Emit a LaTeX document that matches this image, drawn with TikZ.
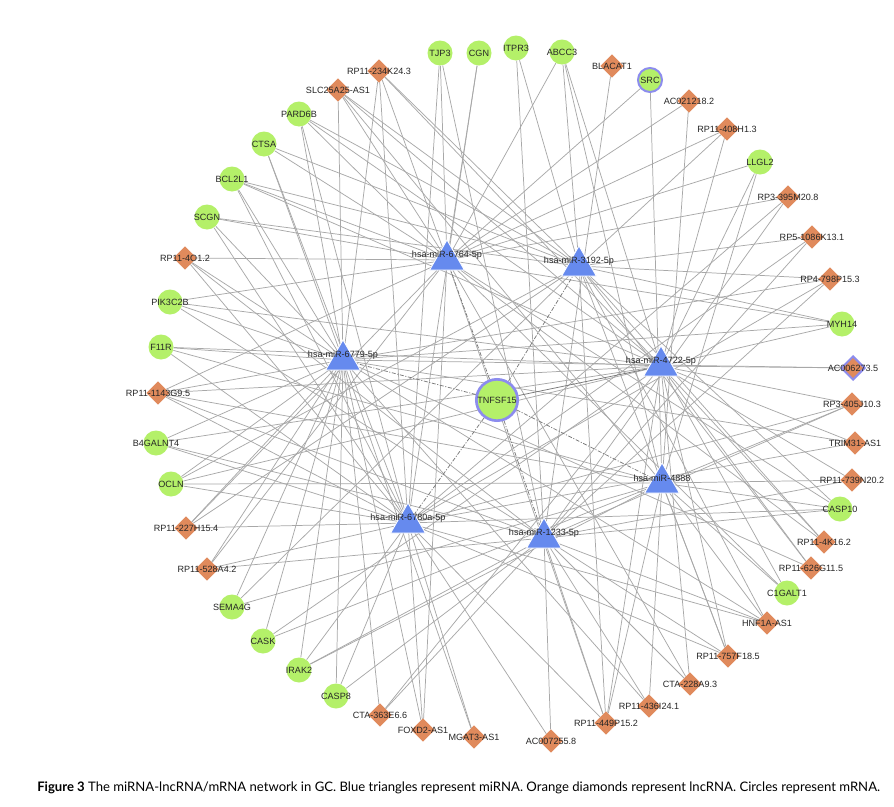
\documentclass[tikz,border=0pt]{standalone}
\usepackage{fontspec}
\usepackage{graphicx}
\setmainfont{Liberation Sans}
\newfontfamily\capfont{Lato}
\usetikzlibrary{shapes.geometric}
\pgfdeclarelayer{bg}
\pgfsetlayers{bg,main}
\definecolor{gfill}{RGB}{180,240,105}
\definecolor{ofill}{RGB}{224,138,92}
\definecolor{bfill}{RGB}{102,138,238}
\definecolor{ringc}{RGB}{140,140,238}
\definecolor{edgec}{RGB}{168,168,168}
\definecolor{dashc}{RGB}{120,120,120}
\begin{document}
\begin{tikzpicture}[x=0.75pt,y=-0.75pt,
  lbl/.style={font=\fontsize{6.8pt}{7pt}\selectfont, inner sep=0pt, text=black!85},
  gc/.style={circle, fill=gfill, minimum size=18.75pt, inner sep=0pt},
  gcs/.style={circle, fill=gfill, draw=ringc, line width=1.5pt, minimum size=18pt, inner sep=0pt},
  od/.style={diamond, fill=ofill, minimum size=17.5pt, inner sep=0pt},
  ods/.style={diamond, fill=ofill, draw=ringc, line width=1.5pt, minimum size=18pt, inner sep=0pt},
  mt/.style={regular polygon, regular polygon sides=3, fill=bfill, draw=white, line width=0.6pt, minimum size=30pt, inner sep=0pt},
  hub/.style={circle, fill=gfill, draw=ringc, line width=2pt, minimum size=31pt, inner sep=0pt},
  edge/.style={draw=edgec, line width=0.55pt},
  dedge/.style={draw=dashc, line width=0.55pt, dash pattern=on 3pt off 1.2pt on 0.8pt off 1.2pt}]
\useasboundingbox (0,0) rectangle (894,807);
% miRNA triangles
\node[mt, label={[lbl,yshift=3.8pt]center:hsa-miR-6764-5p}] (A) at (447,260) {};
\node[mt, label={[lbl,yshift=3.8pt]center:hsa-miR-3192-5p}] (B) at (579,266) {};
\node[mt, label={[lbl,yshift=3.8pt]center:hsa-miR-6779-5p}] (C) at (343,360) {};
\node[mt, label={[lbl,yshift=3.8pt]center:hsa-miR-4722-5p}] (D) at (661,366) {};
\node[mt, label={[lbl,yshift=3.8pt]center:hsa-miR-4888}] (E) at (662,483) {};
\node[mt, label={[lbl,yshift=3.8pt]center:hsa-miR-6780a-5p}] (F) at (408,523) {};
\node[mt, label={[lbl,yshift=3.8pt]center:hsa-miR-1233-5p}] (G) at (544,538) {};
\node[hub, label={[lbl]center:TNFSF15}] (tnf) at (497,400) {};
% outer ring
\node[gc, label={[lbl]center:TJP3}] (tjp3) at (440,53) {};
\node[gc, label={[lbl]center:CGN}] (cgn) at (479,53) {};
\node[gc, label={[lbl]center:ITPR3}] (itpr3) at (516,48) {};
\node[gc, label={[lbl]center:ABCC3}] (abcc3) at (562,52) {};
\node[od, label={[lbl]center:BLACAT1}] (blacat) at (612,66) {};
\node[gcs, label={[lbl]center:SRC}] (src) at (650,80) {};
\node[od, label={[lbl]center:AC021218.2}] (ac021) at (689,101) {};
\node[od, label={[lbl]center:RP11-408H1.3}] (rp408) at (727,129) {};
\node[gc, label={[lbl]center:LLGL2}] (llgl2) at (760,162) {};
\node[od, label={[lbl]center:RP3-395M20.8}] (rp395) at (788,197) {};
\node[od, label={[lbl]center:RP5-1086K13.1}] (rp1086) at (812,237) {};
\node[od, label={[lbl]center:RP4-798P15.3}] (rp798) at (830,279) {};
\node[gc, label={[lbl]center:MYH14}] (myh14) at (842,324) {};
\node[ods, label={[lbl]center:AC006273.5}] (ac006) at (853,368) {};
\node[od, label={[lbl]center:RP3-405J10.3}] (rp405) at (852,404) {};
\node[od, label={[lbl]center:TRIM31-AS1}] (trim31) at (855,443) {};
\node[od, label={[lbl]center:RP11-739N20.2}] (rp739) at (852,480) {};
\node[gc, label={[lbl]center:CASP10}] (casp10) at (840,509) {};
\node[od, label={[lbl]center:RP11-4K16.2}] (rp4k16) at (824,542) {};
\node[od, label={[lbl]center:RP11-626G11.5}] (rp626) at (811,568) {};
\node[gc, label={[lbl]center:C1GALT1}] (c1galt) at (787,593) {};
\node[od, label={[lbl]center:HNF1A-AS1}] (hnf1a) at (767,623) {};
\node[od, label={[lbl]center:RP11-757F18.5}] (rp757) at (728,656) {};
\node[od, label={[lbl]center:CTA-228A9.3}] (cta228) at (690,684) {};
\node[od, label={[lbl]center:RP11-436I24.1}] (rp436) at (649,706) {};
\node[od, label={[lbl]center:RP11-449P15.2}] (rp449) at (606,723) {};
\node[od, label={[lbl]center:AC007255.8}] (ac007) at (551,741) {};
\node[od, label={[lbl]center:MGAT3-AS1}] (mgat3) at (474,737) {};
\node[od, label={[lbl]center:FOXD2-AS1}] (foxd2) at (423,730) {};
\node[od, label={[lbl]center:CTA-363E6.6}] (cta363) at (380,715) {};
\node[gc, label={[lbl]center:CASP8}] (casp8) at (336,696) {};
\node[gc, label={[lbl]center:IRAK2}] (irak2) at (299,670) {};
\node[gc, label={[lbl]center:CASK}] (cask) at (263,641) {};
\node[gc, label={[lbl]center:SEMA4G}] (sema4g) at (232,607) {};
\node[od, label={[lbl]center:RP11-528A4.2}] (rp528) at (207,569) {};
\node[od, label={[lbl]center:RP11-227H15.4}] (rp227) at (186,528) {};
\node[gc, label={[lbl]center:OCLN}] (ocln) at (171,484) {};
\node[gc, label={[lbl]center:B4GALNT4}] (b4gal) at (156,443) {};
\node[od, label={[lbl]center:RP11-1143G9.5}] (rp1143) at (158,393) {};
\node[gc, label={[lbl]center:F11R}] (f11r) at (161,347) {};
\node[gc, label={[lbl]center:PIK3C2B}] (pik3) at (170,302) {};
\node[od, label={[lbl]center:RP11-4O1.2}] (rp4o1) at (185,258) {};
\node[gc, label={[lbl]center:SCGN}] (scgn) at (207,217) {};
\node[gc, label={[lbl]center:BCL2L1}] (bcl2l1) at (232,179) {};
\node[gc, label={[lbl]center:CTSA}] (ctsa) at (264,144) {};
\node[gc, label={[lbl]center:PARD6B}] (pard6b) at (299,114) {};
\node[od, label={[lbl]center:SLC25A25-AS1}] (slc25) at (338,90) {};
\node[od, label={[lbl]center:RP11-234K24.3}] (rp234) at (379,71) {};
% caption
\node[anchor=west, inner sep=0pt] (cap) at (37,788) {\resizebox{632pt}{!}{\capfont\textbf{Figure 3} The miRNA-lncRNA/mRNA network in GC. Blue triangles represent miRNA. Orange diamonds represent lncRNA. Circles represent mRNA.}};
\begin{pgfonlayer}{bg}
\fill[white] (0,0) rectangle (894,807);
\foreach \o in {tjp3,cgn,abcc3,src,ac021,rp408,llgl2,rp395,pik3,rp4o1,scgn,bcl2l1,ctsa,pard6b,slc25,rp234,myh14,rp528,rp227,foxd2,casp10,rp4k16,c1galt,cta228,rp449,rp1143}
  \draw[edge] (A) -- (\o);
\foreach \o in {itpr3,abcc3,rp408,rp1086,rp798,scgn,bcl2l1,ctsa,pard6b,slc25,rp234,myh14,sema4g,rp227,casp10,rp4k16,rp626,hnf1a,rp757,rp449,ocln}
  \draw[edge] (B) -- (\o);
\foreach \o in {slc25,rp234,ctsa,pard6b,f11r,pik3,rp4o1,scgn,rp1143,b4gal,ocln,rp227,rp528,sema4g,cask,irak2,casp8,cta363,foxd2,mgat3,rp798,myh14,ac006,trim31,hnf1a,rp436,rp626,bcl2l1}
  \draw[edge] (C) -- (\o);
\foreach \o in {abcc3,rp408,llgl2,myh14,ac006,rp405,trim31,rp739,rp4k16,rp626,c1galt,rp757,cta228,rp449,cta363,cask,ocln,b4gal,f11r,pik3,bcl2l1,pard6b,slc25,rp234,rp1143}
  \draw[edge] (D) -- (\o);
\foreach \o in {src,ac021,llgl2,abcc3,rp405,rp739,casp10,c1galt,hnf1a,rp449,rp436,irak2,cask,sema4g,ocln,rp1143,f11r,slc25,rp757}
  \draw[edge] (E) -- (\o);
\foreach \o in {rp234,ctsa,pard6b,bcl2l1,scgn,rp4o1,rp528,rp227,ocln,b4gal,rp1143,f11r,irak2,casp8,foxd2,mgat3,ac007,rp449,rp395,rp1086,rp798,rp405,trim31,casp10,hnf1a,rp757,tjp3,cgn}
  \draw[edge] (F) -- (\o);
\foreach \o in {tjp3,itpr3,blacat,rp395,rp1086,rp798,rp405,rp739,casp10,hnf1a,rp757,cta228,rp436,rp449,ac007,cta363,casp8,irak2,rp4o1,b4gal,rp1143,pik3,rp528}
  \draw[edge] (G) -- (\o);
\foreach \m in {A,B,C,E,F,G}
  \draw[dedge] (tnf) -- (\m);
\draw[edge, draw=dashc] (tnf) -- (D);
\end{pgfonlayer}
\end{tikzpicture}
\end{document}
